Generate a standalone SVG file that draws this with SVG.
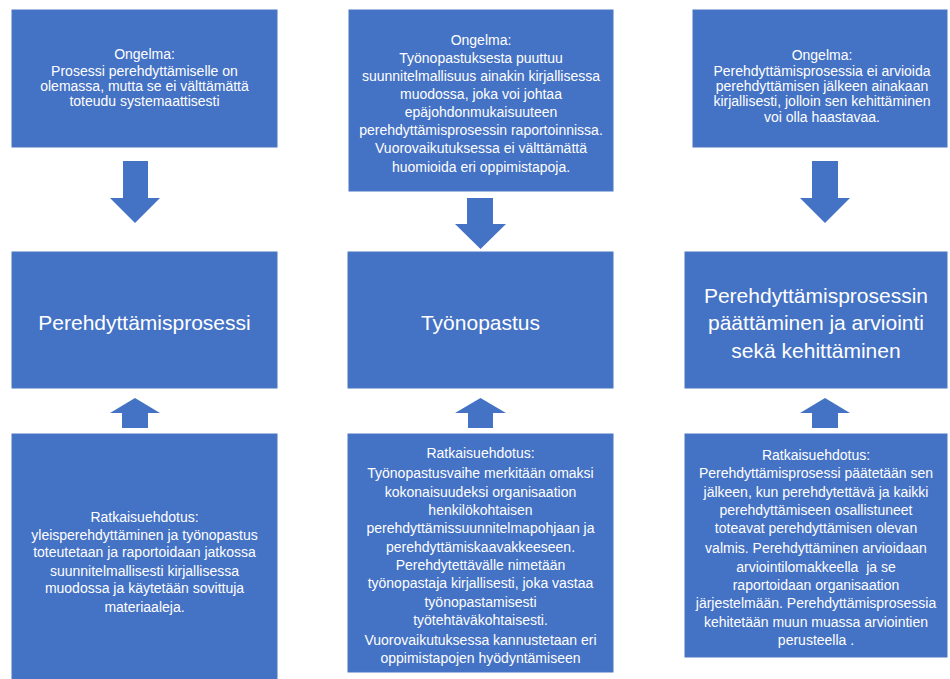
<svg xmlns="http://www.w3.org/2000/svg" width="950" height="679" viewBox="0 0 950 679">
<style>
.box{fill:#4472C4;stroke:#4a76c4;stroke-width:1}
.arrow{fill:#4472C4}
text{font-family:"Liberation Sans",Arial,sans-serif;fill:#ffffff;text-anchor:middle}
.t{font-size:14px}
.h{font-size:21px}
</style>
<rect width="950" height="679" fill="#ffffff"/>
<g id="connectors">
<polygon class="arrow" points="123,161 148,161 148,198 160,198 135,223 110,198 123,198"/>
<polygon class="arrow" points="467,198 493,198 493,224 506,224 480.5,249 455,224 467,224"/>
<polygon class="arrow" points="812,161 838,161 838,198 850,198 825,223 800,198 812,198"/>
<polygon class="arrow" points="122,428 148,428 148,413 160,413 135,398 110,413 122,413"/>
<polygon class="arrow" points="468,428 493,428 493,413 506,413 480.5,398 455,413 468,413"/>
<polygon class="arrow" points="812,428 838,428 838,413 850,413 825,398 800,413 812,413"/>
</g>
<g id="problem1">
<rect class="box" x="12" y="10" width="265" height="137"/>
<text class="t" x="144.5" y="59">Ongelma:</text>
<text class="t" x="144.5" y="76">Prosessi perehdyttämiselle on</text>
<text class="t" x="144.5" y="91">olemassa, mutta se ei välttämättä</text>
<text class="t" x="144.5" y="106">toteudu systemaattisesti</text>
</g>
<g id="problem2">
<rect class="box" x="349" y="10" width="264" height="181"/>
<text class="t" x="481" y="45">Ongelma:</text>
<text class="t" x="481" y="63">Työnopastuksesta puuttuu</text>
<text class="t" x="481" y="81">suunnitelmallisuus ainakin kirjallisessa</text>
<text class="t" x="481" y="99">muodossa, joka voi johtaa</text>
<text class="t" x="481" y="117">epäjohdonmukaisuuteen</text>
<text class="t" x="481" y="135">perehdyttämisprosessin raportoinnissa.</text>
<text class="t" x="481" y="153">Vuorovaikutuksessa ei välttämättä</text>
<text class="t" x="481" y="172">huomioida eri oppimistapoja.</text>
</g>
<g id="problem3">
<rect class="box" x="693" y="10" width="254" height="137"/>
<text class="t" x="822" y="60">Ongelma:</text>
<text class="t" x="822" y="76">Perehdyttämisprosessia ei arvioida</text>
<text class="t" x="822" y="91">perehdyttämisen jälkeen ainakaan</text>
<text class="t" x="822" y="106">kirjallisesti, jolloin sen kehittäminen</text>
<text class="t" x="822" y="122">voi olla haastavaa.</text>
</g>
<g id="stage1">
<rect class="box" x="12" y="252" width="265" height="136"/>
<text class="h" x="144.5" y="330">Perehdyttämisprosessi</text>
</g>
<g id="stage2">
<rect class="box" x="348" y="252" width="265" height="136"/>
<text class="h" x="480.5" y="330">Työnopastus</text>
</g>
<g id="stage3">
<rect class="box" x="685" y="252" width="262" height="136"/>
<text class="h" x="816" y="303">Perehdyttämisprosessin</text>
<text class="h" x="816" y="330">päättäminen ja arviointi</text>
<text class="h" x="816" y="358">sekä kehittäminen</text>
</g>
<g id="solution1">
<rect class="box" x="12" y="434" width="265" height="250"/>
<text class="t" x="144.5" y="522">Ratkaisuehdotus:</text>
<text class="t" x="144.5" y="540">yleisperehdyttäminen ja työnopastus</text>
<text class="t" x="144.5" y="557">toteutetaan ja raportoidaan jatkossa</text>
<text class="t" x="144.5" y="576">suunnitelmallisesti kirjallisessa</text>
<text class="t" x="144.5" y="593">muodossa ja käytetään sovittuja</text>
<text class="t" x="144.5" y="612">materiaaleja.</text>
</g>
<g id="solution2">
<rect class="box" x="348" y="434" width="265" height="238"/>
<text class="t" x="480.5" y="458">Ratkaisuehdotus:</text>
<text class="t" x="480.5" y="478">Työnopastusvaihe merkitään omaksi</text>
<text class="t" x="480.5" y="497">kokonaisuudeksi organisaation</text>
<text class="t" x="480.5" y="515">henkilökohtaisen</text>
<text class="t" x="480.5" y="533">perehdyttämissuunnitelmapohjaan ja</text>
<text class="t" x="480.5" y="552">perehdyttämiskaavakkeeseen.</text>
<text class="t" x="480.5" y="570">Perehdytettävälle nimetään</text>
<text class="t" x="480.5" y="588">työnopastaja kirjallisesti, joka vastaa</text>
<text class="t" x="480.5" y="607">työnopastamisesti</text>
<text class="t" x="480.5" y="625">työtehtäväkohtaisesti.</text>
<text class="t" x="480.5" y="645">Vuorovaikutuksessa kannustetaan eri</text>
<text class="t" x="480.5" y="663">oppimistapojen hyödyntämiseen</text>
</g>
<g id="solution3">
<rect class="box" x="685" y="434" width="262" height="223"/>
<text class="t" x="816" y="460">Ratkaisuehdotus:</text>
<text class="t" x="816" y="478">Perehdyttämisprosessi päätetään sen</text>
<text class="t" x="816" y="497">jälkeen, kun perehdytettävä ja kaikki</text>
<text class="t" x="816" y="515">perehdyttämiseen osallistuneet</text>
<text class="t" x="816" y="533">toteavat perehdyttämisen olevan</text>
<text class="t" x="816" y="553">valmis. Perehdyttäminen arvioidaan</text>
<text class="t" x="816" y="572" xml:space="preserve">arviointilomakkeella  ja se</text>
<text class="t" x="816" y="590">raportoidaan organisaation</text>
<text class="t" x="816" y="608">järjestelmään. Perehdyttämisprosessia</text>
<text class="t" x="816" y="627">kehitetään muun muassa arviointien</text>
<text class="t" x="816" y="645">perusteella .</text>
</g>
</svg>
